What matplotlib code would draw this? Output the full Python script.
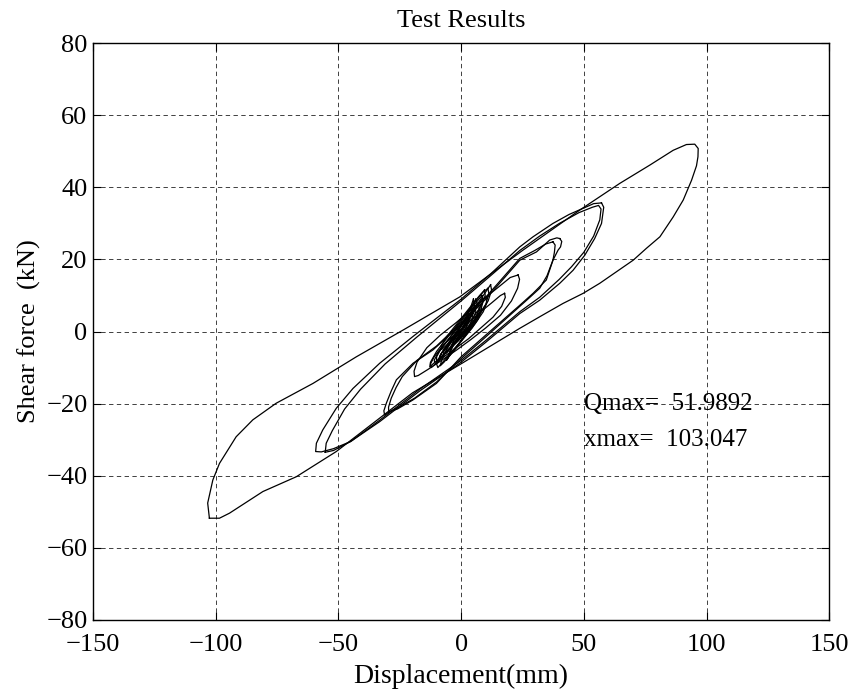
import matplotlib
matplotlib.use('Agg')
import matplotlib.pyplot as plt

# 試驗結果 - 遲滯迴圈 (位移 mm, 剪力 kN)
big_x = [-102.6, -103.3, -101.2, -98.5, -91.7, -84.9, -75.4, -60.4, -42.7, -23.7, -0.6, 25.0,
         48.3, 64.6, 76.9, 86.4, 91.8, 95.2, 96.6, 96.5, 95.9, 93.9, 90.5, 86.4, 81.0, 75.5,
         70.1, 63.3, 56.5, 49.7, 41.5, 32.0, 23.9, 0.6, -19.8, -50.9, -67.2, -80.8, -94.4,
         -98.5, -102.6]
big_y = [-51.8, -47.6, -41.2, -36.6, -29.2, -24.5, -19.9, -14.4, -7.0, 0.4, 9.6, 22.5,
         33.7, 41.1, 46.2, 50.3, 51.9, 52.0, 50.8, 48.5, 46.0, 42.0, 36.5, 31.8, 26.3, 23.1,
         19.8, 16.6, 13.4, 10.6, 7.8, 4.1, 0.9, -8.7, -17.0, -33.3, -40.3, -44.4, -50.4,
         -51.8, -51.8]

b1_x = [57.2, 58.1, 57.8, 57.2, 54.4, 50.4, 45.6, 40.2, 32.0, 23.9, 10.0, 0.0, -16.9, -33.2,
        -45.0, -52.0, -57.0, -59.3, -59.0, -56.4, -50.9, -44.1, -33.2, -19.7, 0.0, 12.0, 23.9,
        29.3, 37.4, 44.0, 49.7, 54.0, 57.2]
b1_y = [35.7, 34.5, 33.0, 30.0, 25.8, 21.2, 17.0, 13.4, 8.7, 5.0, -3.0, -8.5, -16.5, -25.0,
        -30.5, -32.5, -33.4, -33.3, -31.0, -27.3, -21.3, -15.8, -8.8, -1.4, 9.0, 16.0, 23.5,
        26.3, 30.0, 32.5, 34.2, 35.5, 35.7]

b2_x = [-55.4, -55.0, -52.5, -47.5, -41.0, -31.0, -18.0, 0.0, 12.0, 23.9, 32.0, 40.0, 48.0,
        53.5, 56.0, 57.0, 56.5, 54.0, 50.0, 45.0, 40.0, 32.0, 23.9, 10.0, 0.0, -16.9, -33.0,
        -45.0, -52.0, -55.4]
b2_y = [-33.5, -31.0, -27.5, -21.5, -16.0, -9.0, -1.5, 8.5, 15.5, 22.5, 26.5, 30.0, 33.0,
        34.5, 35.0, 34.0, 31.0, 26.5, 22.0, 18.0, 14.5, 9.5, 5.5, -2.5, -8.0, -16.0, -24.5,
        -30.5, -33.0, -33.5]

a1_x = [40.2, 41.0, 40.5, 39.5, 37.4, 34.7, 29.3, 23.9, 10.0, 0.0, -10.1, -19.7, -26.0, -29.2,
        -31.2, -31.5, -30.5, -28.5, -26.4, -19.6, -11.5, 0.0, 10.0, 23.9, 30.7, 36.1, 39.0, 40.2]
a1_y = [25.8, 25.0, 23.5, 22.6, 19.8, 14.3, 10.6, 7.3, -1.0, -7.0, -14.4, -19.0, -21.5, -22.2,
        -23.2, -22.0, -19.9, -16.5, -13.4, -8.8, -5.1, 2.0, 9.0, 19.8, 22.1, 25.4, 26.0, 25.8]

a2_x = [37.4, 38.3, 38.0, 37.4, 35.0, 32.0, 28.0, 23.9, 10.0, 0.0, -10.0, -19.0, -25.5, -28.5,
        -29.5, -29.6, -28.5, -26.5, -24.0, -18.0, -10.0, 0.0, 10.0, 23.9, 30.0, 34.5, 37.4]
a2_y = [24.9, 24.0, 22.0, 19.8, 15.5, 12.0, 9.5, 7.0, -1.5, -7.5, -14.0, -18.5, -21.0, -22.0,
        -22.5, -21.0, -18.5, -15.5, -12.5, -8.0, -4.0, 2.5, 9.5, 20.3, 22.5, 24.3, 24.9]

c1_x = [23.2, 23.8, 23.0, 20.5, 16.0, 10.0, 4.0, -2.0, -8.0, -13.5, -17.5, -19.0, -19.2,
        -18.0, -14.0, -8.5, -2.0, 4.0, 10.0, 15.5, 20.0, 23.2]
c1_y = [15.7, 14.5, 12.0, 8.5, 4.5, 1.0, -2.2, -5.2, -8.0, -10.5, -12.2, -12.5, -11.0,
        -8.5, -4.5, -1.0, 2.5, 6.0, 9.5, 12.5, 15.0, 15.7]

c2_x = [17.7, 18.0, 16.5, 13.0, 8.0, 3.0, -2.0, -7.0, -10.5, -12.2, -12.5, -11.0, -7.0, -2.0,
        3.0, 8.0, 12.5, 16.0, 17.7]
c2_y = [10.6, 9.5, 7.0, 4.0, 1.0, -2.0, -4.5, -7.0, -9.0, -10.0, -9.0, -7.0, -3.5, -0.5,
        2.5, 5.5, 8.0, 10.0, 10.6]

d1_x = [10.9, 11.3, 10.0, 7.0, 3.0, -1.0, -5.0, -9.0, -11.5, -12.8, -12.5, -10.0, -6.0, -2.0,
        2.0, 6.0, 9.0, 10.9]
d1_y = [12.0, 10.5, 7.5, 4.0, 0.5, -2.5, -5.0, -7.5, -9.0, -9.8, -8.5, -5.5, -2.0, 1.5,
        5.0, 8.5, 11.0, 12.0]

d2_x = [8.5, 9.0, 8.0, 5.5, 2.0, -2.0, -5.5, -8.5, -10.0, -10.0, -8.0, -4.5, -1.0, 2.5, 6.0, 8.5]
d2_y = [10.0, 8.5, 6.0, 3.0, 0.0, -3.0, -5.5, -7.5, -8.5, -7.0, -4.5, -1.5, 2.0, 5.0, 8.0, 10.0]

d3_x = [7.0, 7.4, 6.0, 3.5, 0.0, -3.5, -6.5, -7.5, -7.0, -4.5, -1.0, 2.5, 5.5, 7.0]
d3_y = [8.0, 6.5, 4.0, 1.5, -1.5, -4.0, -6.0, -7.0, -5.5, -3.0, 0.5, 4.0, 6.8, 8.0]

d4_x = [5.5, 6.0, 4.5, 2.0, -1.0, -4.0, -6.0, -6.0, -4.0, -1.5, 1.5, 4.0, 5.5]
d4_y = [7.0, 5.5, 3.0, 0.5, -2.0, -4.5, -6.0, -5.0, -2.5, 0.0, 3.0, 5.5, 7.0]

d5_x = [4.5, 4.8, 3.5, 1.0, -1.5, -3.5, -4.5, -4.0, -2.0, 0.5, 3.0, 4.5]
d5_y = [5.0, 3.8, 1.8, -0.5, -2.5, -4.0, -5.0, -3.8, -1.5, 1.0, 3.5, 5.0]

d6_x = [3.0, 3.3, 2.0, 0.0, -2.0, -3.5, -3.2, -1.5, 0.5, 2.2, 3.0]
d6_y = [4.0, 2.8, 1.0, -0.8, -2.5, -3.5, -2.5, -1.0, 1.0, 3.0, 4.0]

d7_x = [2.0, 2.2, 1.0, -0.5, -2.0, -2.2, -1.0, 0.5, 2.0]
d7_y = [2.5, 1.5, 0.0, -1.2, -2.2, -2.5, -1.2, 0.8, 2.5]

d8_x = [9.5, 9.8, 8.0, 5.0, 1.5, -2.0, -5.5, -8.0, -8.2, -6.0, -2.5, 1.0, 4.5, 7.5, 9.5]
d8_y = [11.5, 10.0, 7.0, 4.0, 1.5, -1.0, -3.5, -5.0, -4.0, -1.5, 1.5, 4.5, 7.5, 10.0, 11.5]

d9_x = [6.0, 6.5, 5.0, 2.0, -1.5, -5.0, -8.0, -9.0, -8.5, -6.0, -2.5, 1.0, 4.0, 6.0]
d9_y = [9.0, 7.5, 5.0, 2.0, -1.0, -3.5, -6.0, -7.5, -6.5, -4.0, -0.5, 3.0, 6.5, 9.0]

d10_x = [7.5, 7.8, 6.0, 3.0, 0.0, -3.0, -5.5, -6.0, -5.0, -2.0, 1.0, 4.0, 6.5, 7.5]
d10_y = [6.5, 5.5, 3.0, 0.0, -2.5, -5.0, -7.2, -8.0, -7.0, -4.5, -1.5, 1.5, 4.5, 6.5]

d11_x = [12.0, 12.4, 11.0, 8.0, 4.0, 0.0, -4.0, -8.0, -10.5, -11.0, -9.5, -6.0, -2.0, 2.5,
         6.5, 10.0, 12.0]
d11_y = [13.0, 11.5, 8.5, 5.5, 2.0, -1.0, -4.0, -7.0, -9.0, -8.0, -6.0, -3.0, 0.5, 4.0,
         7.5, 11.0, 13.0]

d12_x = [10.0, 10.5, 9.0, 6.0, 2.5, -1.0, -4.5, -7.5, -9.5, -10.0, -8.0, -5.0, -1.5, 2.0,
         5.5, 8.5, 10.0]
d12_y = [9.5, 8.0, 5.5, 2.5, -0.5, -3.5, -6.0, -8.5, -10.0, -9.0, -6.0, -3.0, 0.0, 3.5,
         6.5, 9.0, 9.5]

d13_x = [5.0, 5.5, 4.5, 2.5, 0.0, -2.5, -4.5, -5.5, -5.0, -3.5, -1.0, 1.5, 3.5, 5.0]
d13_y = [9.0, 7.5, 5.0, 2.5, -0.5, -3.0, -5.5, -7.5, -6.5, -4.0, -1.0, 2.5, 6.0, 9.0]

d14_x = [8.0, 8.3, 7.0, 4.5, 1.5, -1.5, -4.5, -7.0, -8.5, -8.0, -6.0, -3.0, 0.5, 3.5, 6.0, 8.0]
d14_y = [7.5, 6.0, 3.5, 1.0, -1.5, -4.0, -6.5, -8.5, -9.5, -8.0, -5.0, -2.0, 1.0, 4.0, 6.5, 7.5]

cycles = [(big_x, big_y), (b1_x, b1_y), (b2_x, b2_y), (a1_x, a1_y), (a2_x, a2_y),
          (c1_x, c1_y), (c2_x, c2_y), (d1_x, d1_y), (d2_x, d2_y), (d3_x, d3_y),
          (d4_x, d4_y), (d5_x, d5_y), (d6_x, d6_y), (d7_x, d7_y), (d8_x, d8_y),
          (d9_x, d9_y), (d10_x, d10_y), (d11_x, d11_y), (d12_x, d12_y), (d13_x, d13_y),
          (d14_x, d14_y)]

q_max = 51.9892
x_max = 103.047

x_ticks = [-150, -100, -50, 0, 50, 100, 150]
y_ticks = [-80, -60, -40, -20, 0, 20, 40, 60, 80]

plt.rcParams['font.family'] = ['Liberation Serif', 'DejaVu Serif']

fig = plt.figure(figsize=(8.54, 6.98), dpi=100)
ax = fig.add_axes([0.109, 0.112, 0.862, 0.826])

for cx, cy in cycles:
    ax.plot(cx, cy, color='black', lw=0.9)

ax.set_xlim(-150, 150)
ax.set_ylim(-80, 80)
ax.set_xticks(x_ticks)
ax.set_yticks(y_ticks)
ax.set_xticklabels([str(t).replace('-', '\u2212') for t in x_ticks])
ax.set_yticklabels([str(t).replace('-', '\u2212') for t in y_ticks])
ax.tick_params(direction='in', length=6, width=0.8, top=True, right=True, labelsize=19)
ax.tick_params(axis='x', pad=10)
ax.tick_params(axis='y', pad=4)
ax.grid(True, color='black', linestyle=(0, (4.5, 3.5)), lw=0.7, alpha=0.75)
for s in ax.spines.values():
    s.set_linewidth(1.0)

ax.set_title('Test Results', fontsize=19, pad=12)
ax.set_xlabel('Displacement(mm)', fontsize=20, labelpad=6)
ax.set_ylabel('Shear force  (kN)', fontsize=19, labelpad=4)

ax.text(50, -20, 'Qmax=  %.4f' % q_max, fontsize=18, va='center', ha='left')
ax.text(50, -30, 'xmax=  %.3f' % x_max, fontsize=18, va='center', ha='left')

fig.savefig('out.png', dpi=100, facecolor='white')
